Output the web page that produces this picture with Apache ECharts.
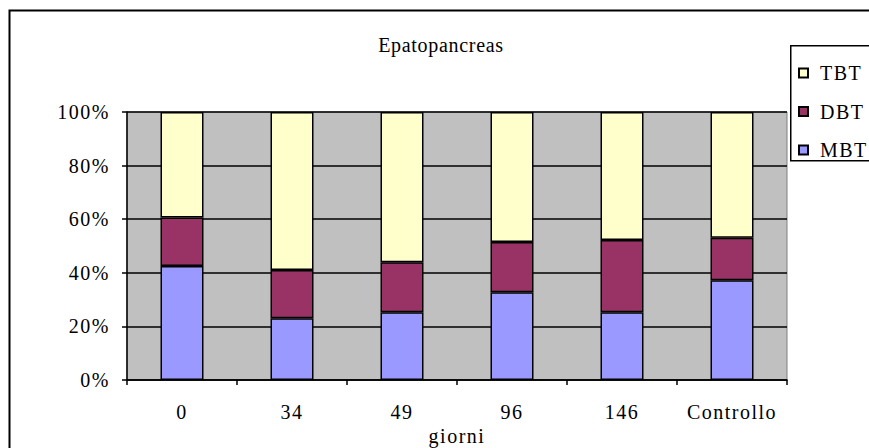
<!DOCTYPE html>
<html>
<head>
<meta charset="utf-8">
<script src="https://cdn.jsdelivr.net/npm/echarts@6/dist/echarts.min.js"></script>
<style>
  html, body { margin: 0; padding: 0; background: #fff; }
  #chart { width: 869px; height: 448px; letter-spacing: 1.5px; }
</style>
</head>
<body>
<div id="chart"></div>
<script>
// Share of butyltin species in hepatopancreas, by sampling day
const categories = ['0', '34', '49', '96', '146', 'Controllo'];
const mbt = [42.5, 23.0, 25.3, 32.7, 25.3, 37.2];
const dbt = [18.1, 18.0, 18.6, 18.8, 26.9, 15.9];
const tbt = [39.4, 59.0, 56.1, 48.5, 47.8, 46.9];
const yTicks = [0, 20, 40, 60, 80, 100];
const chartTitle = 'Epatopancreas';

const FONT = "'Liberation Serif', 'Times New Roman', serif";
const barBorder = { borderColor: '#000', borderWidth: 1.5 };

const chart = echarts.init(document.getElementById('chart'), null, { renderer: 'svg' });
chart.setOption({
  animation: false,
  textStyle: { fontFamily: FONT, color: '#000' },
  graphic: [
    { type: 'rect', left: 7, top: 8, shape: { width: 900, height: 500 },
      style: { fill: 'none', stroke: '#000', lineWidth: 2 }, z: 0 },
    { type: 'rect', left: 790, top: 45, shape: { width: 120, height: 115 },
      style: { fill: '#fff', stroke: '#000', lineWidth: 1.5 }, z: 1 },
    { type: 'text', x: 457, y: 436, z: 5,
      style: { text: 'giorni', font: '20px ' + FONT, fill: '#000',
               textAlign: 'center', textVerticalAlign: 'middle' } }
  ],
  title: {
    text: chartTitle, left: 436, top: 30, textAlign: 'center',
    textStyle: { fontFamily: FONT, fontSize: 20, fontWeight: 'normal', color: '#000' }
  },
  legend: {
    orient: 'vertical', left: 793, top: 58, z: 3,
    data: ['TBT', 'DBT', 'MBT'],
    icon: 'rect', itemWidth: 9, itemHeight: 9, itemGap: 18.5,
    textStyle: { fontFamily: FONT, fontSize: 20, color: '#000', lineHeight: 20, padding: [0, 0, 0, 7] }
  },
  grid: {
    left: 127, right: 82, top: 112, bottom: 68, show: true,
    backgroundColor: '#C0C0C0', borderColor: '#808080', borderWidth: 1
  },
  xAxis: {
    type: 'category', data: categories,
    axisLine: { lineStyle: { color: '#000', width: 1.5 } },
    axisTick: { show: true, length: 5, lineStyle: { color: '#000', width: 1.5 } },
    axisLabel: { fontFamily: FONT, fontSize: 20, color: '#000', margin: 22 },
    splitLine: { show: false }
  },
  yAxis: {
    type: 'value', min: yTicks[0], max: yTicks[yTicks.length - 1], interval: 20,
    axisLine: { show: true, lineStyle: { color: '#000', width: 1.5 } },
    axisTick: { show: true, length: 5, lineStyle: { color: '#000', width: 1.5 } },
    axisLabel: { fontFamily: FONT, fontSize: 20, color: '#000', margin: 17,
                 formatter: '{value}%' },
    splitLine: { show: true, lineStyle: { color: '#000', width: 1.5 } }
  },
  series: [
    { name: 'MBT', type: 'bar', stack: 'tot', data: mbt, barWidth: 43,
      itemStyle: Object.assign({ color: '#9999FF' }, barBorder) },
    { name: 'DBT', type: 'bar', stack: 'tot', data: dbt, barWidth: 43,
      itemStyle: Object.assign({ color: '#993366' }, barBorder) },
    { name: 'TBT', type: 'bar', stack: 'tot', data: tbt, barWidth: 43,
      itemStyle: Object.assign({ color: '#FFFFCC' }, barBorder) }
  ]
});

// The title reads a little tighter than the axis text
chart.getDom().querySelectorAll('text').forEach(function (t) {
  if (t.textContent === chartTitle) t.style.letterSpacing = '0.7px';
});
</script>
</body>
</html>
